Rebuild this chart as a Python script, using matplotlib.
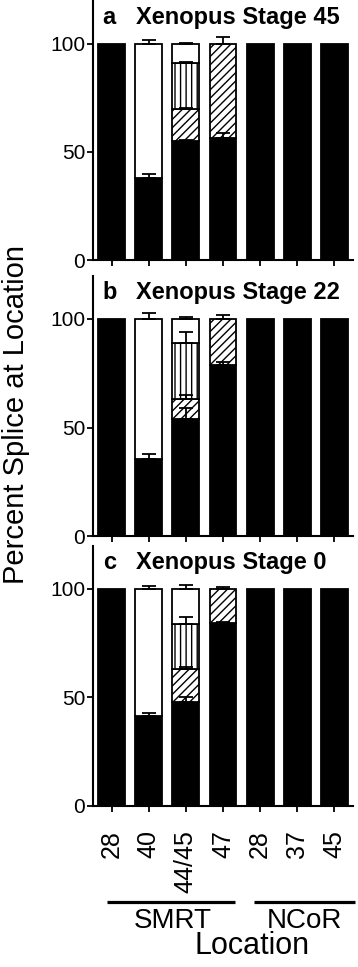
"""
Stacked splice-site usage per location, three Xenopus stages (a/b/c).
"""
import matplotlib
import numpy as np

matplotlib.use("Agg")
import matplotlib.pyplot as plt

plt.rcParams['font.family'] = ['Liberation Sans', 'DejaVu Sans']
plt.rcParams['hatch.linewidth'] = 1.0

# ------------------------------------
# Data
# ------------------------------------
locations = ["28", "40", "44/45", "47", "28", "37", "45"]
groups = ["SMRT", "NCoR"]
panel_letters = ["a", "b", "c"]
stages = ["Xenopus Stage 45", "Xenopus Stage 22", "Xenopus Stage 0"]

# Segment heights (percent), stacked bottom to top:
# solid, diagonal hatch, vertical hatch, open.
stage45_solid = [100, 38, 55, 56.5, 100, 100, 100]
stage45_diag = [0, 0, 15, 43.5, 0, 0, 0]
stage45_vert = [0, 0, 21, 0, 0, 0, 0]
stage45_open = [0, 62, 9, 0, 0, 0, 0]

stage22_solid = [100, 35.5, 54, 79, 100, 100, 100]
stage22_diag = [0, 0, 9, 21, 0, 0, 0]
stage22_vert = [0, 0, 26, 0, 0, 0, 0]
stage22_open = [0, 64.5, 11, 0, 0, 0, 0]

stage0_solid = [100, 41.5, 48, 84.5, 100, 100, 100]
stage0_diag = [0, 0, 15, 15.5, 0, 0, 0]
stage0_vert = [0, 0, 21, 0, 0, 0, 0]
stage0_open = [0, 58.5, 16, 0, 0, 0, 0]

# Upper error (percent) at the top of each segment; nan = none drawn.
nan = np.nan
stage45_solid_err = [nan, 2.0, 0.5, 2.5, nan, nan, nan]
stage45_diag_err = [nan, nan, 0.5, 3.0, nan, nan, nan]
stage45_vert_err = [nan, nan, 0.5, nan, nan, nan, nan]
stage45_open_err = [nan, 2.0, 0.4, nan, nan, nan, nan]

stage22_solid_err = [nan, 2.3, 5.0, 1.0, nan, nan, nan]
stage22_diag_err = [nan, nan, 2.0, 1.8, nan, nan, nan]
stage22_vert_err = [nan, nan, 5.0, nan, nan, nan, nan]
stage22_open_err = [nan, 2.6, 1.0, nan, nan, nan, nan]

stage0_solid_err = [nan, 1.2, 2.0, 0.5, nan, nan, nan]
stage0_diag_err = [nan, nan, 1.0, 0.8, nan, nan, nan]
stage0_vert_err = [nan, nan, 3.3, nan, nan, nan, nan]
stage0_open_err = [nan, 1.4, 2.0, nan, nan, nan, nan]

panels = [
    ([stage45_solid, stage45_diag, stage45_vert, stage45_open],
     [stage45_solid_err, stage45_diag_err, stage45_vert_err, stage45_open_err]),
    ([stage22_solid, stage22_diag, stage22_vert, stage22_open],
     [stage22_solid_err, stage22_diag_err, stage22_vert_err, stage22_open_err]),
    ([stage0_solid, stage0_diag, stage0_vert, stage0_open],
     [stage0_solid_err, stage0_diag_err, stage0_vert_err, stage0_open_err]),
]

# ------------------------------------
# Styles
# ------------------------------------
SEGMENT_STYLE = [
    dict(color="black", hatch=None),
    dict(color="white", hatch="////"),
    dict(color="white", hatch="|||"),
    dict(color="white", hatch=None),
]
BAR_WIDTH = 0.72
LW = 1.3

# Axes boxes in figure fractions (left, bottom, width, height).
PANEL_BOXES = [
    (0.2598, 0.7311, 0.7262, 0.2682),
    (0.2598, 0.4457, 0.7262, 0.2693),
    (0.2598, 0.1665, 0.7262, 0.2693),
]

# ------------------------------------
# Figure
# ------------------------------------
fig = plt.figure(figsize=(3.58, 9.67), dpi=100)
x = np.arange(len(locations))

axes = []
for box, (segments, errors), letter, stage in zip(PANEL_BOXES, panels,
                                                  panel_letters, stages):
    ax = fig.add_axes(box)
    axes.append(ax)
    bottom = np.zeros(len(x))
    for seg, err, style in zip(segments, errors, SEGMENT_STYLE):
        seg = np.asarray(seg, dtype=float)
        err = np.asarray(err, dtype=float)
        keep = seg > 0
        ax.bar(x[keep], seg[keep], BAR_WIDTH, bottom=bottom[keep],
               color=style["color"], hatch=style["hatch"],
               edgecolor="black", linewidth=LW, zorder=2)
        top = bottom + seg
        ok = np.isfinite(err)
        if ok.any():
            ax.errorbar(x[ok], top[ok],
                        yerr=[np.zeros(ok.sum()), err[ok]],
                        fmt="none", ecolor="black", elinewidth=LW,
                        capsize=5, capthick=LW, zorder=3)
        bottom = top

    ax.set_xlim(-0.5, 6.5)
    ax.set_ylim(0, 120)
    ax.set_yticks([0, 50, 100])
    ax.set_xticks(x)
    ax.spines[['top', 'right']].set_visible(False)
    ax.spines[['left', 'bottom']].set_linewidth(1.5)
    ax.tick_params(direction="out", length=4.5, width=1.3)
    ax.tick_params(axis="y", labelsize=15, pad=1)
    ax.text(-0.24, 109.3, letter, fontsize=17, fontweight="bold")
    ax.text(0.645, 109.3, stage, fontsize=17, fontweight="bold")

for ax in axes[:-1]:
    ax.set_xticklabels([])

ax = axes[-1]
ax.set_xticklabels(locations, rotation=90, fontsize=18)
ax.tick_params(axis="x", pad=13)

# Gene group bars and names under the tick labels.
for name, x0, x1, xc in [(groups[0], -0.11, 3.31, 1.65),
                         (groups[1], 3.84, 6.56, 5.19)]:
    ax.plot([x0, x1], [-44.2, -44.2], color="black", lw=2.3,
            clip_on=False, solid_capstyle="butt")
    ax.text(xc, -53.0, name, fontsize=20, ha="center", va="center",
            clip_on=False)

fig.text(252.5 / 358, 1 - 946 / 967, "Location", fontsize=22,
         ha="center", va="center")
fig.text(16.5 / 358, 1 - 415 / 967, "Percent Splice at Location",
         fontsize=21, rotation=90, ha="center", va="center")

fig.savefig("out.png", dpi=100)
